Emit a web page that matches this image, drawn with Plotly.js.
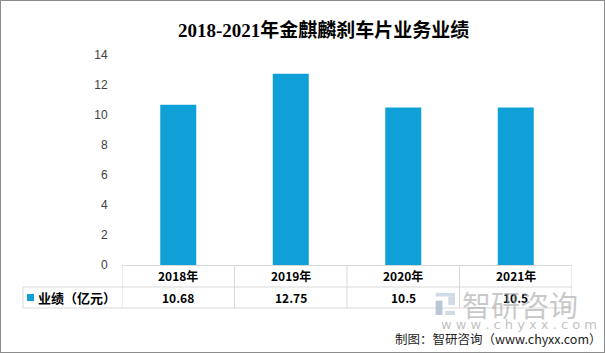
<!DOCTYPE html>
<html>
<head>
<meta charset="utf-8">
<script src="https://cdn.plot.ly/plotly-3.0.1.min.js"></script>
<style>
html,body{margin:0;padding:0;background:#fff;}
#wrap{width:603px;height:351px;border:1px solid #8c8c8c;}
#chart{width:603px;height:351px;}
</style>
</head>
<body>
<div id="wrap"><div id="chart"></div></div>
<script>
// ---- data ----
const years = ['2018年', '2019年', '2020年', '2021年'];
const values = [10.68, 12.75, 10.5, 10.5];
const seriesName = '业绩（亿元）';
const yTickVals = [0, 2, 4, 6, 8, 10, 12, 14];
const titleText = '2018-2021年金麒麟刹车片业务业绩';
const sourceText = '制图：智研咨询（www.chyxx.com）';
const watermarkMain = '智研咨询';
const watermarkSub = 'w w w . c h y x x . c o m';

const barColor = '#10a0d8';
const gridColor = '#d9d9d9';
const cjk = '"Noto Sans CJK SC", "Microsoft YaHei", sans-serif';

// table geometry (paper coords relative to plot area)
const row1Mid = -0.052, rowDiv = -0.1048, row2Mid = -0.155, tableBottom = -0.2048;
const legendLeft = -0.22;

const shapes = [];
shapes.push({type:'line', xref:'x', yref:'paper', x0:-0.5, x1:years.length-0.5, y0:rowDiv, y1:rowDiv, line:{color:gridColor, width:1}});
shapes.push({type:'line', xref:'paper', yref:'paper', x0:legendLeft, x1:0, y0:rowDiv, y1:rowDiv, line:{color:gridColor, width:1}});
shapes.push({type:'line', xref:'x', yref:'paper', x0:-0.5, x1:years.length-0.5, y0:tableBottom, y1:tableBottom, line:{color:gridColor, width:1}});
shapes.push({type:'line', xref:'paper', yref:'paper', x0:legendLeft, x1:0, y0:tableBottom, y1:tableBottom, line:{color:gridColor, width:1}});
shapes.push({type:'line', xref:'paper', yref:'paper', x0:legendLeft, x1:legendLeft, y0:rowDiv, y1:tableBottom, line:{color:gridColor, width:1}});
for (let i = 0; i <= years.length; i++) {
  shapes.push({type:'line', xref:'x', yref:'paper', x0:i-0.5, x1:i-0.5, y0:0, y1:tableBottom, line:{color:gridColor, width:1}});
}
// legend marker
shapes.push({type:'rect', xref:'paper', yref:'paper', x0:-0.2111, x1:-0.1956, y0:-0.138, y1:-0.1714, fillcolor:barColor, line:{width:0}});
// watermark logo (approximate)
const logoC = '#c9d5e2', logoD = '#aebdcc';
shapes.push({type:'rect', xref:'paper', yref:'paper', x0:0.697, x1:0.74, y0:-0.133, y1:-0.150, fillcolor:logoC, line:{width:0}, layer:'above', opacity:0.85});
shapes.push({type:'rect', xref:'paper', yref:'paper', x0:0.725, x1:0.74, y0:-0.150, y1:-0.19, fillcolor:logoC, line:{width:0}, layer:'above', opacity:0.85});
shapes.push({type:'rect', xref:'paper', yref:'paper', x0:0.697, x1:0.712, y0:-0.17, y1:-0.238, fillcolor:logoD, line:{width:0}, layer:'above', opacity:0.85});
shapes.push({type:'rect', xref:'paper', yref:'paper', x0:0.718, x1:0.74, y0:-0.218, y1:-0.238, fillcolor:logoC, line:{width:0}, layer:'above', opacity:0.85});

const annotations = [];
years.forEach((y, i) => {
  annotations.push({x:y, xref:'x', y:row1Mid, yref:'paper', text:y, showarrow:false,
    font:{family:cjk, size:12, color:'#000', weight:'bold'}, xanchor:'center', yanchor:'middle'});
  annotations.push({x:y, xref:'x', y:row2Mid, yref:'paper', text:String(values[i]), showarrow:false,
    font:{family:cjk, size:12, color:'#000', weight:'bold'}, xanchor:'center', yanchor:'middle'});
});
annotations.push({x:-0.191, xref:'paper', y:row2Mid, yref:'paper', text:seriesName, showarrow:false,
  font:{family:cjk, size:13, color:'#000', weight:'bold'}, xanchor:'left', yanchor:'middle'});
// watermark
annotations.push({x:0.752, xref:'paper', y:-0.185, yref:'paper', text:watermarkMain, showarrow:false,
  font:{family:cjk, size:29, color:'rgba(165,165,165,0.6)'}, xanchor:'left', yanchor:'middle'});
annotations.push({x:0.705, xref:'paper', y:-0.285, yref:'paper', text:watermarkSub, showarrow:false,
  font:{family:'"DejaVu Sans", sans-serif', size:13, color:'rgba(165,165,165,0.7)'}, xanchor:'left', yanchor:'middle'});
// source
annotations.push({x:1.07, xref:'paper', y:-0.35, yref:'paper', text:sourceText, showarrow:false,
  font:{family:cjk, size:12.5, color:'#222'}, xanchor:'right', yanchor:'middle'});

const trace = {
  type:'bar', x:years, y:values, name:seriesName,
  marker:{color:barColor, line:{width:0}}, hoverinfo:'x+y'
};

const layout = {
  width:603, height:351,
  margin:{l:121, r:32, t:54, b:87},
  paper_bgcolor:'#fff', plot_bgcolor:'#fff',
  showlegend:false,
  bargap:0.68,
  title:{text:titleText, x:0.535, xanchor:'center', y:0.915, yanchor:'middle',
    font:{family:'"Liberation Serif", "Noto Sans CJK SC", serif', size:19, color:'#000', weight:'bold'}},
  xaxis:{type:'category', range:[-0.5, years.length-0.5], showticklabels:false, showgrid:false,
    zeroline:false, showline:true, linecolor:gridColor, linewidth:1, fixedrange:true},
  yaxis:{range:[0,14], tickvals:yTickVals, showgrid:false, zeroline:false, showline:false,
    ticks:'outside', ticklen:11, tickcolor:'rgba(0,0,0,0)',
    tickfont:{family:'"Liberation Sans", "DejaVu Sans", sans-serif', size:12, color:'#404040'}, fixedrange:true},
  shapes:shapes,
  annotations:annotations
};

Plotly.newPlot('chart', [trace], layout, {displayModeBar:false, staticPlot:true});
</script>
</body>
</html>
